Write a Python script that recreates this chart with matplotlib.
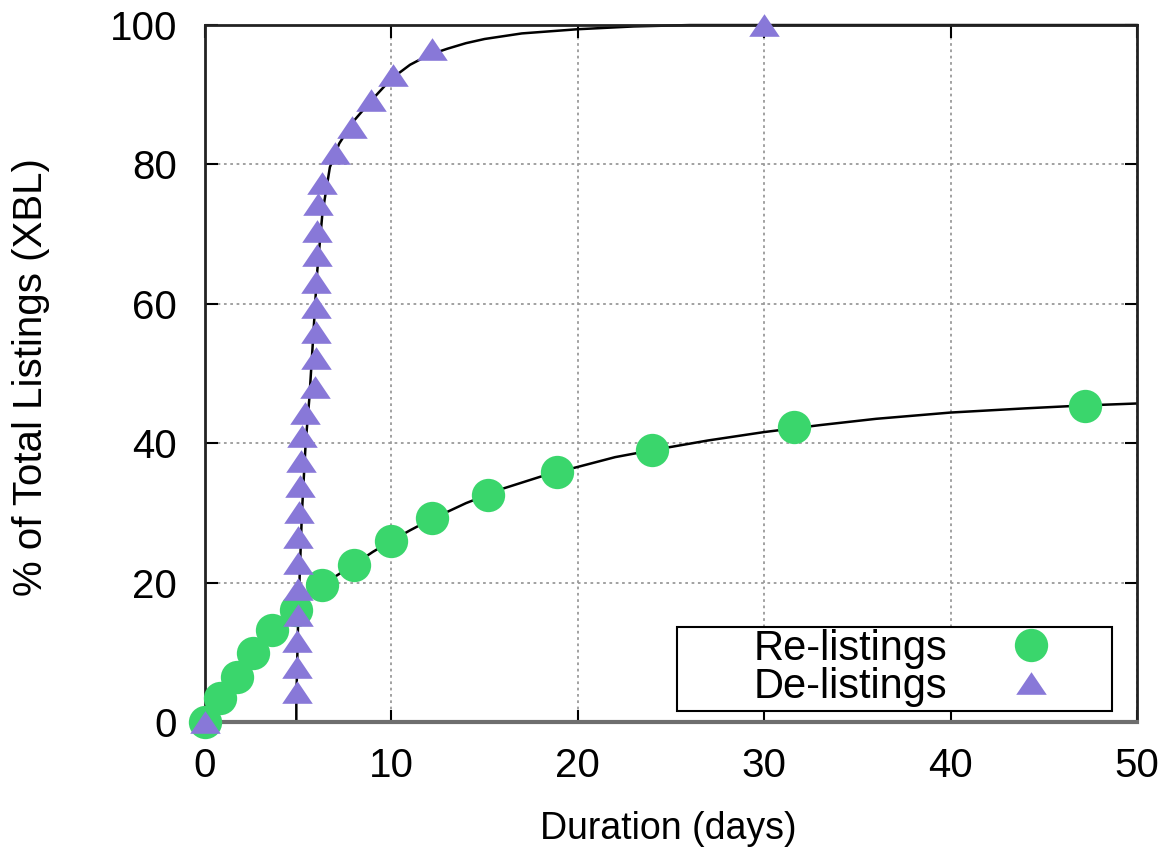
import numpy as np
import matplotlib.pyplot as plt
from matplotlib.patches import Rectangle

plt.rcParams['font.family'] = ['Liberation Sans', 'DejaVu Sans']

# Re-listings (circles)
relist_x = [0, 0.8, 1.7, 2.6, 3.6, 4.9, 6.3, 8.0, 10.0, 12.2, 15.2, 18.9, 24.0, 31.6, 47.2]
relist_y = [0, 3.4, 6.5, 9.9, 13.2, 16.1, 19.6, 22.5, 26.0, 29.2, 32.5, 35.8, 39.0, 42.3, 45.4]

# De-listings (triangles)
delist_x = [0, 4.95, 4.95, 4.95, 4.97, 4.97, 5.0, 5.0, 5.05, 5.1, 5.15, 5.2, 5.35, 5.9,
            5.95, 5.95, 5.95, 5.95, 6.0, 6.0, 6.05, 6.3, 7.0, 7.9, 8.9, 10.1, 12.2, 30.0]
delist_y = [0, 4.3, 7.9, 11.6, 15.3, 19.1, 22.8, 26.5, 30.1, 33.8, 37.4, 41.0, 44.4, 48.0,
            52.2, 55.9, 59.5, 63.1, 67.0, 70.5, 74.3, 77.4, 81.6, 85.3, 89.2, 92.8, 96.6, 100.0]

# fitted curves
relist_fit_x = [0, 1, 2, 3, 4, 5, 6, 7, 8, 9, 10, 11, 12, 14, 16, 18, 20, 22, 24, 27, 30,
                33, 36, 40, 44, 47, 50]
relist_fit_y = [0, 4.2, 7.6, 11.0, 14.0, 16.5, 19.0, 20.9, 22.6, 24.4, 26.0, 27.5, 28.9,
                31.4, 33.5, 35.2, 36.6, 38.0, 39.0, 40.4, 41.6, 42.6, 43.5, 44.4, 45.0,
                45.4, 45.7]
delist_fit_x = [0, 4.9, 4.9, 5.0, 5.2, 5.4, 5.6, 5.8, 6.0, 6.3, 6.7, 7.2, 8, 9, 10, 11,
                12, 13, 14, 15, 17, 20, 23, 26, 30, 50]
delist_fit_y = [0, 0, 3, 15, 30, 40, 46.5, 55, 64, 73, 79.6, 83, 86.3, 89.4, 92.3, 94.3,
                95.7, 96.6, 97.4, 98.0, 98.8, 99.4, 99.8, 100, 100, 100]

green = '#3ad66c'
purple = '#8878d8'
tri = [(0, 0.74), (-1, -0.74), (1, -0.74), (0, 0.74)]

fig = plt.figure(figsize=(11.68, 8.52), dpi=100)
ax = fig.add_axes([0.1755, 0.1526, 0.798, 0.818])

ax.plot(relist_fit_x, relist_fit_y, color='black', lw=1.8, zorder=2)
ax.plot(delist_fit_x, delist_fit_y, color='black', lw=1.8, zorder=2, clip_on=False)

ax.plot(relist_x, relist_y, linestyle='none', marker='o', ms=24, color=green,
        mec='none', label='Re-listings', clip_on=False, zorder=3)
ax.plot(delist_x, delist_y, linestyle='none', marker=tri, ms=22, color=purple,
        mec='none', label='De-listings', clip_on=False, zorder=4)

ax.set_xlim(0, 50)
ax.set_ylim(0, 100)
ax.set_xticks(range(0, 51, 10))
ax.set_yticks(range(0, 101, 20))
ax.tick_params(direction='in', length=9, width=1.5, labelsize=29,
               top=True, right=True)
ax.tick_params(axis='x', pad=18)
ax.tick_params(axis='y', pad=20)
ax.grid(True, color='#9a9a9a', linestyle=(0, (1.5, 2)), lw=1.3)

for side in ['left', 'top', 'right']:
    ax.spines[side].set_linewidth(2)
    ax.spines[side].set_color('#222222')
ax.spines['bottom'].set_linewidth(3)
ax.spines['bottom'].set_color('#6e6e6e')

ax.set_xlabel('Duration (days)', fontsize=27)
ax.set_ylabel('% of Total Listings (XBL)', fontsize=29)
ax.xaxis.set_label_coords(0.497, -0.128)
ax.yaxis.set_label_coords(-0.166, 0.495)

ax.add_patch(Rectangle((0.506, 0.016), 0.467, 0.12, transform=ax.transAxes,
                       fill=True, facecolor='white', edgecolor='black', lw=1.5, zorder=5))
leg = ax.legend(loc='center right', bbox_to_anchor=(0.953, 0.078), frameon=False,
                markerfirst=False, fontsize=30, borderpad=0, handletextpad=1.0,
                handlelength=2, labelspacing=-0.05)
leg.set_zorder(6)

fig.savefig('out.png', dpi=100)
